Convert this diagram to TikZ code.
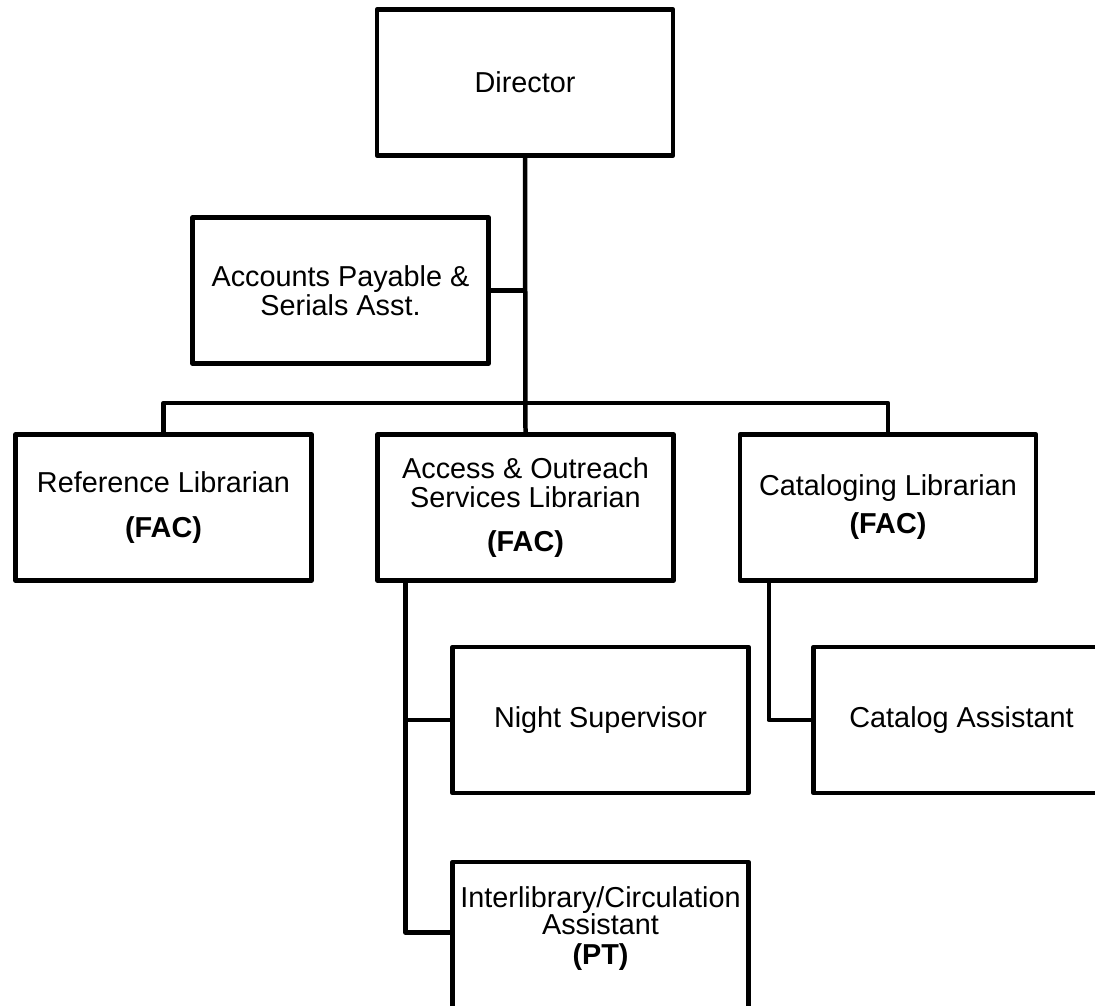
\documentclass[tikz,border=0pt]{standalone}
\usepackage{fontspec}
\setmainfont{Liberation Sans}
\usetikzlibrary{positioning}

\begin{document}
\begin{tikzpicture}[x = 0.02cm, y = -0.02cm]
\tikzstyle{PostStyle}=[shape = rectangle,
                       draw,
                       line width = 0.09cm,
                       line join = round,
                       minimum width = 5.92cm,
                       minimum height = 2.92cm,
                       inner sep = 0pt,
                       align = center,
                       font = \fontsize{16.4}{16.6}\selectfont]
\tikzstyle{LinkStyle}=[line width = 0.09cm, line join = round]
\useasboundingbox (0, 0) rectangle (1095, 1005);
\clip (0, 0) rectangle (1095, 1005);
% boxes
\node[PostStyle] (dir)     at (525.0, 82.5)  {Director};
\node[PostStyle] (accpay)  at (340.5, 290.5) {Accounts Payable \&\\Serials Asst.};
\node[PostStyle] (ref)     at (163.5, 507.5) {Reference Librarian\\[9pt]\textbf{(FAC)}};
\node[PostStyle] (access)  at (525.5, 507.5) {Access \& Outreach\\Services Librarian\\[8pt]\textbf{(FAC)}};
\node[PostStyle] (catlib)  at (888.0, 507.5) {Cataloging Librarian\\[5pt]\textbf{(FAC)}};
\node[PostStyle] (night)   at (600.5, 720.0) {Night Supervisor};
\node[PostStyle] (catasst) at (961.5, 720.0) {Catalog Assistant};
\node[PostStyle, text depth = 11pt] (ilc) at (600.5, 935.0) {Interlibrary/Circulation\\[-1pt]Assistant\\[0pt]\textbf{(PT)}};
% lines
\coordinate (bus) at (526, 403);
\coordinate (accstem) at ([xshift = 0.6cm]access.south west);
\coordinate (catstem) at ([xshift = 0.62cm]catlib.south west);
\draw[LinkStyle] (dir.south) -- (access.north);
\draw[LinkStyle] (accpay.east) -- (accpay.east -| dir.south);
\draw[LinkStyle] (ref.north) |- (bus) -| (catlib.north);
\draw[LinkStyle] (accstem) |- ([yshift = 0.05cm]ilc.west);
\draw[LinkStyle] (night.west) -- (night.west -| accstem);
\draw[LinkStyle] (catstem) |- (catasst.west);
\end{tikzpicture}
\end{document}
